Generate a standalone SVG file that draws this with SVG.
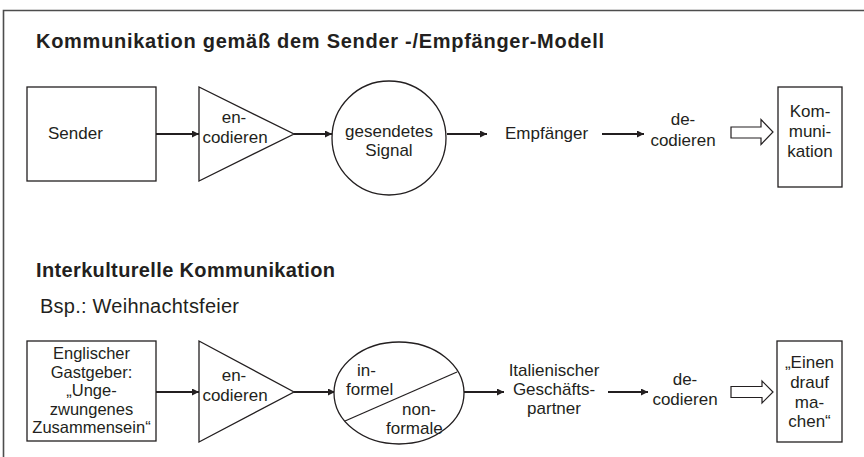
<svg xmlns="http://www.w3.org/2000/svg" width="864" height="457" viewBox="0 0 864 457">
<defs>
<style>
text{font-family:"Liberation Sans",Arial,sans-serif;fill:#231f20;font-size:17px}
.t{font-weight:bold;font-size:20px}
.c{text-anchor:middle}
.b{font-size:16.5px}
.s{fill:#fff;stroke:#231f20;stroke-width:1.3}
.ln{stroke:#231f20;stroke-width:2.2;fill:none;marker-end:url(#ah)}
.ho{fill:#fff;stroke:#231f20;stroke-width:1.2}
</style>
<marker id="ah" markerUnits="userSpaceOnUse" markerWidth="8" markerHeight="8" refX="7" refY="3.5" orient="auto">
<path d="M0,0 L7,3.5 L0,7 z" fill="#231f20"/>
</marker>
</defs>
<rect width="864" height="457" fill="#fff"/>
<path d="M3.5,457 V10.5 H864" fill="none" stroke="#4d4d4d" stroke-width="1.6"/>

<g id="titles">
<text class="t" x="36" y="48" textLength="568" lengthAdjust="spacing">Kommunikation gemäß dem Sender -/Empfänger-Modell</text>
<text class="t" x="36" y="277" textLength="299" lengthAdjust="spacing">Interkulturelle Kommunikation</text>
<text x="40" y="313" style="font-size:20px" textLength="199" lengthAdjust="spacing">Bsp.: Weihnachtsfeier</text>
</g>

<g id="connectors">
<line class="ln" x1="156" y1="134" x2="199" y2="134"/>
<line class="ln" x1="294" y1="134" x2="332" y2="134"/>
<line class="ln" x1="447" y1="134" x2="487" y2="134"/>
<line class="ln" x1="602" y1="134" x2="644" y2="134"/>
<polygon class="ho" points="731,127 761,127 761,119.5 773,132 761,144.5 761,138 731,138"/>
<line class="ln" x1="156" y1="392" x2="199" y2="392"/>
<line class="ln" x1="294" y1="392" x2="335" y2="392"/>
<line class="ln" x1="464" y1="392" x2="504" y2="392"/>
<line class="ln" x1="608" y1="392" x2="648" y2="392"/>
<polygon class="ho" points="731,386.5 762,386.5 762,381 773,392 762,403 762,397.5 731,397.5"/>
</g>

<g id="sender">
<rect class="s" x="27" y="87" width="129" height="94"/>
<text x="48" y="139">Sender</text>
</g>
<g id="encode1">
<polygon class="s" points="199,87 199,181 294,134"/>
<text class="c" x="234" y="123">en-<tspan x="235" dy="20">codieren</tspan></text>
</g>
<g id="signal">
<circle class="s" cx="389" cy="138" r="57"/>
<text class="c" x="389" y="137">gesendetes<tspan x="389" dy="19">Signal</tspan></text>
</g>
<g id="empfaenger">
<text x="505" y="139">Empfänger</text>
</g>
<g id="decode1">
<text class="c" x="683" y="125">de-<tspan x="683" dy="21">codieren</tspan></text>
</g>
<g id="kommunikation">
<rect class="s" x="778" y="87" width="64" height="100"/>
<text class="c" x="810" y="117">Kom-<tspan x="810" dy="20">muni-</tspan><tspan x="810" dy="20">kation</tspan></text>
</g>

<g id="gastgeber">
<rect class="s" x="27" y="341" width="129" height="100"/>
<text class="c b" x="91.5" y="359">Englischer<tspan x="91.5" dy="18.5">Gastgeber:</tspan><tspan x="91.5" dy="18.5">„Unge-</tspan><tspan x="91.5" dy="18.5">zwungenes</tspan><tspan x="91.5" dy="18.5">Zusammensein“</tspan></text>
</g>
<g id="encode2">
<polygon class="s" points="199,341 199,442 294,392"/>
<text class="c" x="234" y="381">en-<tspan x="235" dy="20">codieren</tspan></text>
</g>
<g id="formal">
<ellipse class="s" cx="399" cy="393" rx="65" ry="51"/>
<line x1="345" y1="421" x2="457" y2="372" stroke="#231f20" stroke-width="1.3"/>
<text x="357" y="376">in-<tspan x="346" dy="19">formel</tspan></text>
<text x="402" y="415">non-<tspan x="386" dy="19">formale</tspan></text>
</g>
<g id="partner">
<text class="c" x="554" y="376">Italienischer<tspan x="554" dy="19">Geschäfts-</tspan><tspan x="554" dy="19">partner</tspan></text>
</g>
<g id="decode2">
<text class="c" x="685" y="385">de-<tspan x="685" dy="19.5">codieren</tspan></text>
</g>
<g id="draufmachen">
<rect class="s" x="777" y="341" width="65" height="101"/>
<text class="c" x="809.5" y="368">„Einen<tspan x="809.5" dy="20">drauf</tspan><tspan x="809.5" dy="19.5">ma-</tspan><tspan x="809.5" dy="19.5">chen“</tspan></text>
</g>
</svg>
